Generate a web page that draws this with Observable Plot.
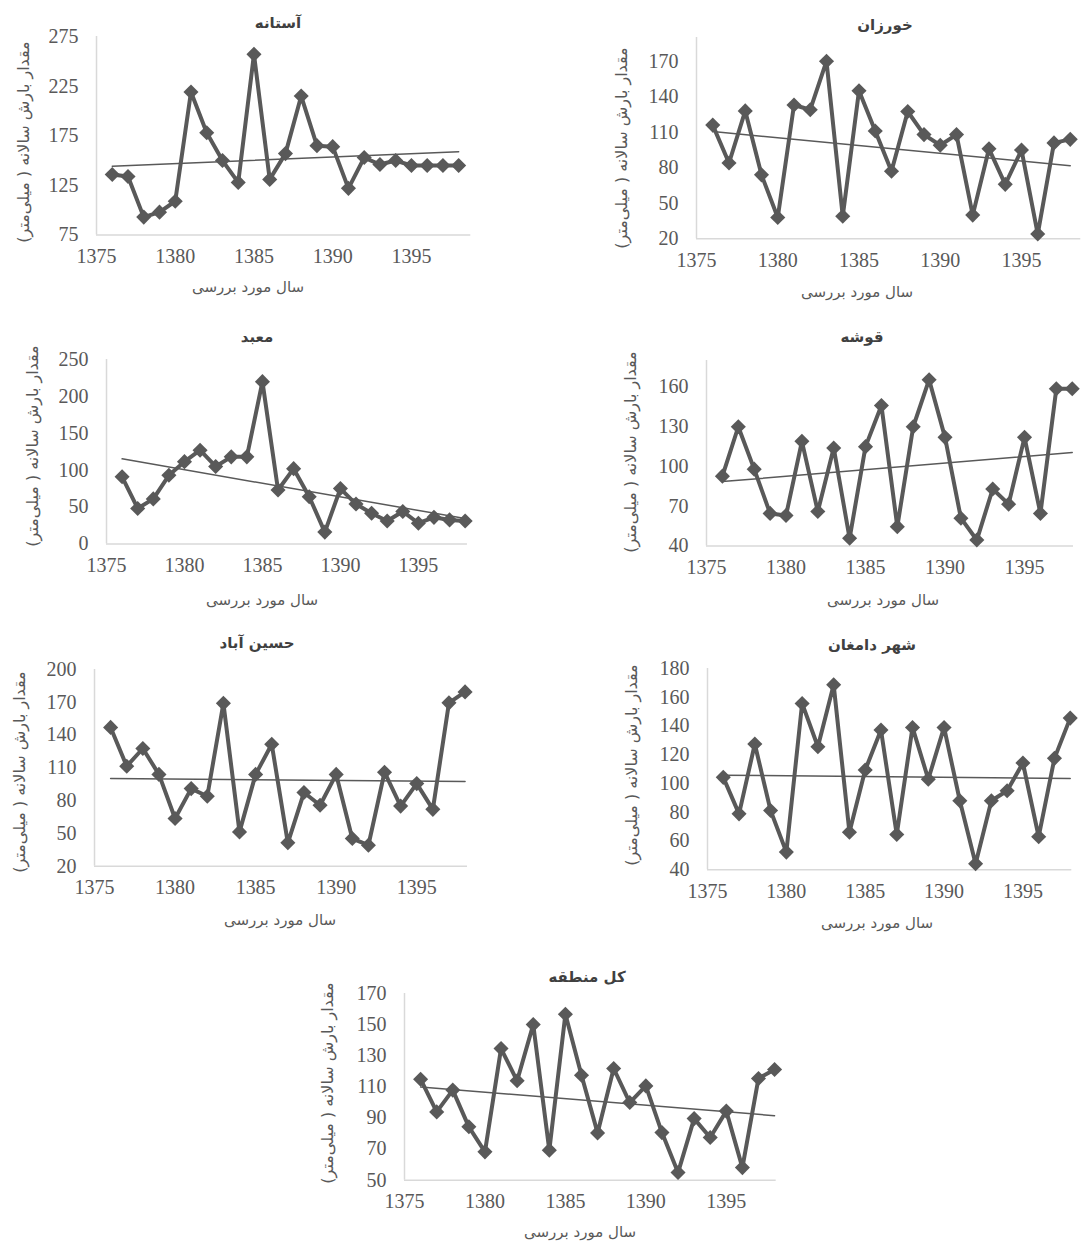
<!DOCTYPE html>
<html><head><meta charset="utf-8">
<script src="https://cdn.jsdelivr.net/npm/d3@7"></script>
<script src="https://cdn.jsdelivr.net/npm/@observablehq/plot@0.6"></script>
<style>
body{margin:0;background:#fff;}
#wrap{position:relative;width:1081px;height:1245px;overflow:hidden;background:#fff;}
.t{position:absolute;transform:translate(-50%,-50%);white-space:nowrap;color:#595959;font-family:"DejaVu Sans",sans-serif;direction:rtl;line-height:1;}
.title{font-weight:bold;font-size:15px;color:#404040;letter-spacing:3px;}
.xl{font-size:15px;}
.yl{font-size:16px;transform:translate(-50%,-50%) rotate(-90deg);}
svg.p{position:absolute;}
</style></head><body><div id="wrap"></div>
<script>
// ---- data (annual precipitation, mm) ----
const years = [1376,1377,1378,1379,1380,1381,1382,1383,1384,1385,1386,1387,1388,1389,1390,1391,1392,1393,1394,1395,1396,1397,1398];
const xTicks = [1375,1380,1385,1390,1395];

const astaneh    = [136,134,93,98,109,219,178,150,128,257,131,157,215,165,164,122,153,146,150,145,145,145,145];
const khorzan    = [116,84,128,74,38,133,129,170,39,145,111,77,127.5,108,99,108,40,96,66,95,24,101,104];
const maabad     = [91,48,61,93,111.5,127,105,118,118,220,73,102,64,16,75,54,41.5,31,44,28,36,32.5,31];
const ghousheh   = [92.7,130,98,64.6,63,119,66,114,45.8,115,146,54.6,130,165.5,122,61,44.5,83,71.6,122,64.6,158.7,158.7];
const hosseinAbad= [147,111.5,127.7,104,63.6,91,84,169,51.4,104,131.6,41.4,87.4,75.8,104,45.3,39.2,106,75,95.6,72,169.5,179.5];
const damghan    = [104.3,78.9,127.5,81.2,52.3,155.7,125.6,168.7,66.1,109.4,137.2,64.5,139,103,139,88,44.2,88,95,114.3,63,117.5,145.5];
const kolMantagheh = [114.9,93.9,107.9,84.3,68.2,134.6,113.9,150,69.3,156.7,117.5,80.4,121.8,99.9,110.6,80.6,54.9,89.6,77.4,94.4,58.1,115.4,121.1];

const titles = ["آستانه","خورزان","معبد","قوشه","حسین آباد","شهر دامغان","کل منطقه"];
const yTicks1 = [75,125,175,225,275];
const yTicks2 = [20,50,80,110,140,170];
const yTicks3 = [0,50,100,150,200,250];
const yTicks4 = [40,70,100,130,160];
const yTicks5 = [20,50,80,110,140,170,200];
const yTicks6 = [40,60,80,100,120,140,160,180];
const yTicks7 = [50,70,90,110,130,150,170];
const xLabel = "سال مورد بررسی";
const yLabel = "مقدار بارش سالانه ( میلی‌متر)";

// ---- layout ----
const panels = [
  {values:astaneh, title:titles[0], ticks:yTicks1, domain:[75,275], L:95.7,R:470,T:36,B:234.5, xmax:1398.77, tp:[278,23], xp:[248,287], yp:[24,142]},
  {values:khorzan, title:titles[1], ticks:yTicks2, domain:[20,190], L:695.7,R:1080,T:37,B:238.3, xmax:1398.65, tp:[885,25], xp:[857,292], yp:[622,148]},
  {values:maabad, title:titles[2], ticks:yTicks3, domain:[0,250], L:106,R:467,T:359.3,B:543.7, xmax:1398.15, tp:[257,337], xp:[262,600], yp:[33,446]},
  {values:ghousheh, title:titles[3], ticks:yTicks4, domain:[40,180], L:706,R:1073,T:360,B:545.5, xmax:1398.08, tp:[862,337], xp:[883,600], yp:[631,452]},
  {values:hosseinAbad, title:titles[4], ticks:yTicks5, domain:[20,200], L:94,R:467,T:669.3,B:866, xmax:1398.15, tp:[257,643], xp:[280,920], yp:[20,772]},
  {values:damghan, title:titles[5], ticks:yTicks6, domain:[40,180], L:706.7,R:1071,T:667.7,B:869, xmax:1398.1, tp:[872,645], xp:[877,923], yp:[632,765]},
  {values:kolMantagheh, title:titles[6], ticks:yTicks7, domain:[50,170], L:404.3,R:776,T:993.3,B:1180, xmax:1398.1, tp:[587,977], xp:[580,1232], yp:[328,1083]}
];

const wrap = document.getElementById("wrap");
const grey = "#595959";

function addText(cls, txt, pos){
  const d = document.createElement("div");
  d.className = "t " + cls;
  d.textContent = txt;
  d.style.left = pos[0] + "px";
  d.style.top = pos[1] + "px";
  wrap.appendChild(d);
}

for (const c of panels){
  const mL = 70, mR = 8, mT = 12, mB = 40;
  const w = c.R - c.L + mL + mR;
  const h = c.B - c.T + mT + mB;
  const data = years.map((yr, i) => ({year: yr, value: c.values[i]}));
  const svg = Plot.plot({
    width: w, height: h,
    marginLeft: mL, marginRight: mR, marginTop: mT, marginBottom: mB,
    style: {fontFamily: '"Liberation Serif","Times New Roman",serif', fontSize: "20px", color: grey, background: "transparent", overflow: "visible"},
    x: {domain: [1375, c.xmax], label: null},
    y: {domain: c.domain, label: null},
    marks: [
      Plot.ruleY([c.domain[0]], {stroke: "#d9d9d9", strokeWidth: 1.5}),
      Plot.ruleX([1375], {stroke: "#d9d9d9", strokeWidth: 1.5}),
      Plot.axisX({ticks: xTicks, tickSize: 0, tickPadding: 14, tickFormat: d => String(d), label: null, fill: grey}),
      Plot.axisY({ticks: c.ticks, tickSize: 0, tickPadding: 18, tickFormat: d => String(d), label: null, fill: grey}),
      Plot.linearRegressionY(data, {x: "year", y: "value", ci: 0, stroke: grey, strokeWidth: 1.5}),
      Plot.line(data, {x: "year", y: "value", stroke: grey, strokeWidth: 4}),
      Plot.dot(data, {x: "year", y: "value", symbol: "diamond2", r: 6.8, fill: grey, stroke: "none"})
    ]
  });
  svg.classList.add("p");
  svg.style.left = (c.L - mL) + "px";
  svg.style.top = (c.T - mT) + "px";
  wrap.appendChild(svg);
  addText("title", c.title, c.tp);
  addText("xl", xLabel, c.xp);
  addText("yl", yLabel, c.yp);
}
</script></body></html>
